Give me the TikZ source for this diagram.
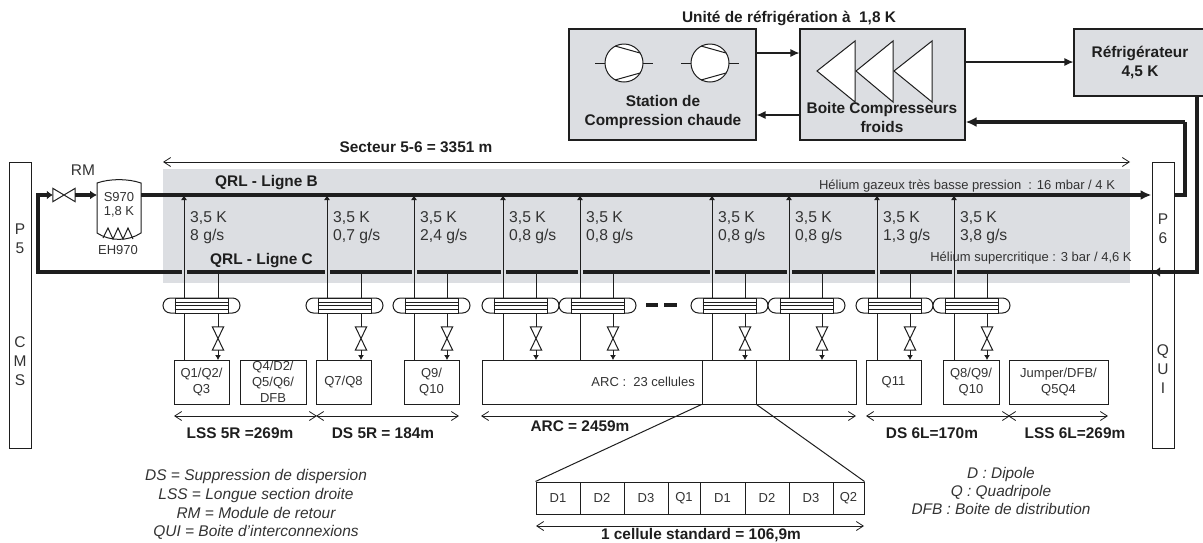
\documentclass[tikz,border=0pt]{standalone}
\usepackage{fontspec}
\setmainfont{Liberation Sans}
\usetikzlibrary{arrows.meta}
\definecolor{panel}{HTML}{DCDEE2}
\definecolor{ink}{HTML}{1E1E1E}
\definecolor{txt}{HTML}{333333}
\tikzset{
  x=1pt,y=-1pt,
  thinl/.style={draw=ink,line width=1pt},
  thick line/.style={draw=ink,line width=3.2pt},
  medl/.style={draw=ink,line width=1.2pt},
  box/.style={draw=ink,line width=1pt,fill=white,inner sep=0pt,align=center,text=txt,font=\fontsize{13}{16}\selectfont},
  gbox/.style={draw=ink,line width=1.1pt,fill=panel,inner sep=0pt},
  bold/.style={font=\fontsize{15.4}{19}\selectfont\bfseries,text=ink,inner sep=0pt,align=center},
  plain/.style={font=\fontsize{13}{14}\selectfont,text=txt,inner sep=0pt,align=center},
  flow/.style={font=\fontsize{15.7}{18}\selectfont,text=txt,inner sep=0pt,align=left,anchor=north west},
  legend/.style={font=\fontsize{15.5}{18.7}\selectfont\itshape,text=txt,inner sep=0pt,align=center},
  col/.style={font=\fontsize{15.5}{19}\selectfont,text=txt,inner sep=0pt,align=center},
  dim/.style={draw=ink,line width=0.8pt,{Straight Barb[length=7pt,width=9pt]}-{Straight Barb[length=7pt,width=9pt]}},
  small/.style={-{Latex[length=5pt,width=6pt]}},
  mid/.style={-{Latex[length=9pt,width=8pt]}},
  big/.style={-{Latex[length=11pt,width=10pt]}},
  ctrl/.style={inner sep=0pt,minimum width=11pt,minimum height=23pt},
}
\begin{document}
\begin{tikzpicture}
\useasboundingbox (0,0) rectangle (1203,542);
% panel
\node[fill=panel,minimum width=967pt,minimum height=114pt,inner sep=0pt] (panelbox) at (646.5,226) {};
% end boxes
\node[box,minimum width=22pt,minimum height=286pt] (p5) at (20,305) {};
\node[box,minimum width=22pt,minimum height=286pt] (p6) at (1163,305) {};
\node[col] (p5t) at (20,239) {P\\5};
\node[col] (p5b) at (20,361) {C\\M\\S};
\node[col] (p6t) at (1163,229) {P\\6};
\node[col] (p6b) at (1163,369) {Q\\U\\I};
% top boxes
\node[gbox,minimum width=187pt,minimum height=111pt] (station) at (662.5,84.5) {};
\node[gbox,minimum width=165pt,minimum height=111pt] (boite) at (882.5,84.5) {};
\node[gbox,minimum width=130pt,minimum height=67pt] (refr) at (1139,62.5) {};
\node[bold] (title) at (789,18) {Unité de réfrigération à\ \ 1,8 K};
\node[bold] (stationt) at (663,112) {Station de\\Compression chaude};
\node[bold,text=ink] (refrt) at (1140,63) {Réfrigérateur\\4,5 K};
% compressors
\foreach \n/\cx in {a/624,b/710}{
  \coordinate (s\n l) at (\cx-29,63);
  \coordinate (s\n r) at (\cx+29,63);
  \draw[thinl] (s\n l) -- (s\n r);
  \node[circle,draw=ink,line width=1pt,fill=white,minimum size=38pt,inner sep=0pt] (c\n) at (\cx,63) {};
  \draw[thinl] (\cx-9,46) -- (\cx+16,53);
  \draw[thinl] (\cx-9,80) -- (\cx+16,73);
}
% triangles
\foreach \tip/\base in {817/855,856/893,894/932}{
  \draw[thinl,fill=white] (\tip,71) -- (\base,41) -- (\base,102) -- cycle;
}
\node[bold] (boitet) at (882,117.5) {Boite Compresseurs\\froids};
% top arrows
\draw[medl,mid] (station.east |- 0,53) -- (boite.west |- 0,53);
\draw[medl,mid] (boite.west |- 0,115) -- (station.east |- 0,115);
\draw[medl,mid] (boite.east |- 0,62) -- (refr.west |- 0,62);
% sector
\coordinate (secl) at (163,162); \coordinate (secr) at (1130,162);
\draw[dim] (secl) -- (secr);
\node[bold] (sect) at (416,147) {Secteur 5-6 = 3351 m};
% header panel texts
\node[bold] (lb) at (266.5,183) {QRL - Ligne B};
\node[bold] (lc) at (261.5,261) {QRL - Ligne C};
\node[plain] (hb) at (967,186) {Hélium gazeux très basse pression\ \ : 16 mbar / 4 K};
\node[plain] (hc) at (1031,258) {Hélium supercritique : 3 bar / 4,6 K};
% tank
\draw[thinl,fill=white] (97,183) .. controls (110,178.5) and (128,178.5) .. (141,183) -- (141,233) .. controls (128,241.5) and (110,241.5) .. (97,233) -- cycle;
\coordinate (tankl) at (97,195); \coordinate (tankr) at (141,195);
\node[plain] (tk) at (119,205) {S970\\1,8 K};
\node[plain] (eh) at (118,250) {EH970};
\draw[thinl] (103,238) -- (108,228) -- (113,239) -- (118,228) -- (123,239) -- (128,228) -- (133,239);
% RM valve
\node[inner sep=0pt,minimum width=22pt,minimum height=13pt] (rmv) at (64,195) {};
\draw[thinl] (rmv.north west) -- (rmv.south east) -- (rmv.north east) -- (rmv.south west) -- cycle;
\node[font=\fontsize{15.5}{16}\selectfont,text=txt,inner sep=0pt] (rm) at (83,170) {RM};
% lines B and C
\coordinate (cl) at (38,272); \coordinate (cr) at (1197,272); \coordinate (bl) at (38,195);
\coordinate (bcorner) at (1185,195); \coordinate (btop) at (1185,122); \coordinate (ctop) at (1197,96);
\draw[thick line,big] (tankr) -- (p6.west |- tankr);
\draw[thick line] (p6.east |- tankr) -- (bcorner) -- (btop);
\draw[thick line,big] (btop) -- (boite.east |- btop);
\draw[thick line,line join=miter] (ctop) -- (cr) -- (cl) -- (bl) -- (47,195);
\draw[thick line,-{Latex[length=6pt,width=9pt]}] (bl) -- (rmv.west);
\draw[thick line,-{Latex[length=7pt,width=9pt]}] (rmv.east) -- (tankl);
\draw[thick line,-{Latex[length=7pt,width=10pt]}] (1175,272) -- (1153,272);
% boxes
\node[box,minimum width=55pt,minimum height=44pt] (q1) at (201.5,382) {Q1/Q2/\\Q3};
\node[box,minimum width=66pt,minimum height=44pt] (q4) at (273,382) {Q4/D2/\\Q5/Q6/\\DFB};
\node[box,minimum width=55pt,minimum height=44pt] (q7) at (343.5,382) {Q7/Q8};
\node[box,minimum width=55pt,minimum height=44pt] (q9) at (431.5,382) {Q9/\\Q10};
\node[box,minimum width=374pt,minimum height=44pt] (arc) at (669,382) {};
\node[box,minimum width=54pt,minimum height=44pt] (arcm) at (729,382) {};
\node[font=\fontsize{13}{15}\selectfont,text=txt,inner sep=0pt,anchor=east] (arct) at (695,382) {ARC :\ \ 23 cellules};
\node[box,minimum width=55pt,minimum height=44pt] (q11) at (893.5,382) {Q11};
\node[box,minimum width=56pt,minimum height=44pt] (q8) at (971,382) {Q8/Q9/\\Q10};
\node[box,minimum width=99pt,minimum height=44pt] (jump) at (1058.5,382) {Jumper/DFB/\\Q5Q4};
% branches
\foreach \i/\lp/\rp/\fl in {1/184/218/{8},2/327/361/{0,7},3/414/447/{2,4},4/503/536/{0,8},5/580/613/{0,8},6/712/745/{0,8},7/789/822/{0,8},8/877/910/{1,3},9/954/987/{3,8}}{
  \coordinate (bt\i) at (\lp,195);
  \coordinate (bb\i) at (\lp,360);
  \coordinate (ct\i) at (\rp,272);
  \coordinate (cb\i) at (\rp,360);
  \draw[draw=panel,line width=3.8pt] (\lp-2.5,272) -- (\lp+2.5,272);
  \draw[thinl,small] (bb\i) -- (bt\i);
  \draw[thinl] (ct\i) -- (\rp,298);
  \node[ctrl] (v\i) at (\rp,338.5) {};
  \draw[thinl] (\rp,313) -- (v\i.north);
  \draw[thinl] (v\i.north west) -- (v\i.north east) -- (v\i.south west) -- (v\i.south east) -- cycle;
  \draw[thinl,small] (v\i.south) -- (cb\i);
  \node[draw=ink,line width=1pt,fill=white,rounded corners=7.5pt,minimum width=77pt,minimum height=15pt,inner sep=0pt] (hx\i) at (\lp+17.5,305.5) {};
  \node[draw=ink,line width=1pt,fill=white,minimum width=53pt,minimum height=15pt,inner sep=0pt] (core\i) at (\lp+17.5,305.5) {};
  \draw[thinl] (core\i.west |- 0,302) -- (core\i.east |- 0,302);
  \draw[thinl] (core\i.west) -- (core\i.east);
  \draw[thinl] (core\i.west |- 0,309) -- (core\i.east |- 0,309);
  \node[flow] (f\i) at (\lp+6,211) {3,5 K\\\fl\ g/s};
}
% dash
\draw[thick line] (646,305) -- (658,305);
\draw[thick line] (664,305) -- (677,305);
% dimension arrows
\coordinate (d1) at (174,416); \coordinate (d2) at (316,416); \coordinate (d2b) at (317,416); \coordinate (d3) at (459,416);
\coordinate (d4) at (481,416); \coordinate (d5) at (856,416); \coordinate (d6) at (866,416); \coordinate (d7) at (1010,416);
\coordinate (d7b) at (1008,416); \coordinate (d8) at (1108,416);
\draw[dim] (d1) -- (d2b);
\draw[dim] (d2) -- (d3);
\draw[dim] (d4) -- (d5);
\draw[dim] (d6) -- (d7);
\draw[dim] (d7b) -- (d8);
\node[bold] (l1) at (240,433) {LSS 5R =269m};
\node[bold] (l2) at (383,433) {DS 5R = 184m};
\node[bold] (l3) at (580,426) {ARC = 2459m};
\node[bold] (l4) at (932,433) {DS 6L=170m};
\node[bold] (l5) at (1075,433) {LSS 6L=269m};
% cell
\foreach \n/\a/\b/\t in {1/536/580/D1,2/580/624/D2,3/624/668/D3,4/668/700/Q1,5/700/745/D1,6/745/789/D2,7/789/833/D3,8/833/864/Q2}{
  \node[box,minimum width=\b pt-\a pt,minimum height=32pt] (cell\n) at ({(\a+\b)/2},498) {\t};
}
\draw[thinl] (arcm.south west) -- (cell1.north west);
\draw[thinl] (arcm.south east) -- (cell8.north east);
\coordinate (ca) at (536,526); \coordinate (cb) at (864,526);
\draw[dim] (ca) -- (cb);
\node[bold] (cellt) at (701,535) {1 cellule standard = 106,9m};
% legends
\node[legend] (leg1) at (256,504.5) {DS = Suppression de dispersion\\LSS = Longue section droite\\RM = Module de retour\\QUI = Boite d’interconnexions};
\node[legend,font=\fontsize{15.4}{18}\selectfont\itshape] (leg2) at (1001,491) {D : Dipole\\Q : Quadripole\\DFB : Boite de distribution};
\end{tikzpicture}
\end{document}
